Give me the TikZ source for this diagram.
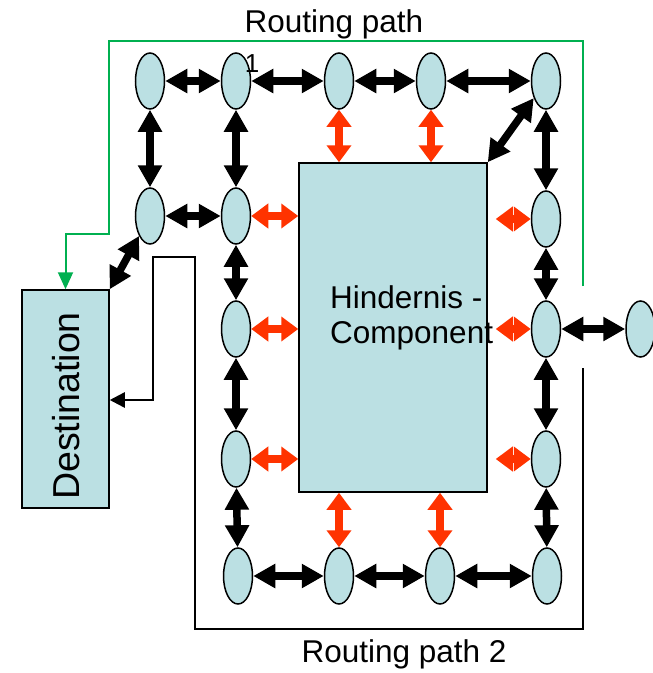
\documentclass[tikz,border=0pt]{standalone}
\usepackage{fontspec}
\setmainfont{Liberation Sans}
\usetikzlibrary{shapes.geometric,arrows.meta}
\definecolor{cellblue}{RGB}{187,224,227}
\definecolor{routegreen}{RGB}{0,176,80}
\definecolor{linkred}{RGB}{255,51,0}

\begin{document}
\begin{tikzpicture}[x=1pt, y=-1pt,
    cell/.style={ellipse, draw, line width=1.5pt, fill=cellblue, minimum width=29pt, minimum height=56pt, inner sep=0pt},
    block/.style={rectangle, draw, line width=1.5pt, fill=cellblue, inner sep=0pt},
    link/.style={line width=7.5pt, {Triangle[length=22pt,width=23pt]}-{Triangle[length=22pt,width=23pt]}},
    redlink/.style={linkred, line width=8pt, {Triangle[length=17pt,width=24pt]}-{Triangle[length=17pt,width=24pt]}},
    route/.style={line width=2.5pt}]
    \useasboundingbox (0,0) rectangle (653,673);

    \node[block, minimum width=188pt, minimum height=329pt] (HC) at (393,327.5) {};
    \node[block, minimum width=87pt, minimum height=218pt] (DS) at (65.5,399) {};
    \node[rotate=90, inner sep=0pt, font=\fontsize{37.5}{40}\selectfont] (DSlbl) at (66,406) {Destination};
    \node[anchor=north west, align=left, inner sep=0pt, font=\fontsize{31.5}{35}\selectfont] (HClbl) at (330,285) {Hindernis -\\Component};

    \node[cell] (TA) at (150,81) {};
    \node[cell] (TB) at (236,81) {};
    \node[cell] (TC) at (339,81) {};
    \node[cell] (TD) at (431,81) {};
    \node[cell] (TE) at (546,81) {};
    \node[cell] (SA) at (150,216) {};
    \node[cell] (SB) at (236,216) {};
    \node[cell] (SE) at (546,219) {};
    \node[cell] (MB) at (236,329) {};
    \node[cell] (ME) at (546,329) {};
    \node[cell] (OUT) at (640.5,329) {};
    \node[cell] (LB) at (236,459) {};
    \node[cell] (LE) at (546,459) {};
    \node[cell] (BB) at (238,576) {};
    \node[cell] (BC) at (339,576) {};
    \node[cell] (BD) at (440,576) {};
    \node[cell] (BE) at (547,576) {};

    \node[font=\fontsize{26}{30}\selectfont, inner sep=0pt, anchor=base] (one) at (252,72) {1};
    \node[font=\fontsize{31.5}{34}\selectfont, anchor=base] (rp1) at (334,32) {Routing path};
    \node[font=\fontsize{31.5}{34}\selectfont, anchor=base] (rp2) at (404,662) {Routing path 2};

    \draw[link] (TA) -- (TB);
    \draw[link] (TB) -- (TC);
    \draw[link] (TC) -- (TD);
    \draw[link] (TD) -- (TE);
    \draw[link] (TA) -- (SA);
    \draw[link] (TB) -- (SB);
    \draw[link] (TE) -- (SE);
    \draw[link] (SA) -- (SB);
    \draw[link] (SB) -- (MB);
    \draw[link] (MB) -- (LB);
    \draw[link] (LB) -- (BB);
    \draw[link] (SE) -- (ME);
    \draw[link] (ME) -- (LE);
    \draw[link] (LE) -- (BE);
    \draw[link] (BB) -- (BC);
    \draw[link] (BC) -- (BD);
    \draw[link] (BD) -- (BE);
    \draw[link] (ME) -- (OUT);
    \draw[link] (TE) -- (HC.north east);
    \draw[link] (SA) -- (DS.north east);

    \draw[redlink] (TC) -- (TC |- HC.north);
    \draw[redlink] (TD) -- (TD |- HC.north);
    \draw[redlink] (SB) -- (SB -| HC.west);
    \draw[redlink] (MB) -- (MB -| HC.west);
    \draw[redlink] (LB) -- (LB -| HC.west);
    \draw[redlink, shorten <=8pt] (HC.east |- SE) -- (SE);
    \draw[redlink, shorten <=8pt] (HC.east |- ME) -- (ME);
    \draw[redlink, shorten <=8pt] (HC.east |- LE) -- (LE);
    \draw[redlink] (HC.south -| BC) -- (BC);
    \draw[redlink] (HC.south -| BD) -- (BD);

    % routing path (green)
    \coordinate (G1) at (583,286);
    \draw[routegreen, line width=2pt, -{Triangle[length=17pt,width=15pt]}] (G1) -- (583,41) -| (109,234) -| (DS.north);

    % routing path 2
    \coordinate (R1) at (583,368);
    \coordinate (R2) at (153,400);
    \draw[route, -{Triangle[length=15pt,width=15pt]}] (R1) -- (583,629) -| (195,257) -| (R2) -- (R2 -| DS.east);
\end{tikzpicture}
\end{document}
